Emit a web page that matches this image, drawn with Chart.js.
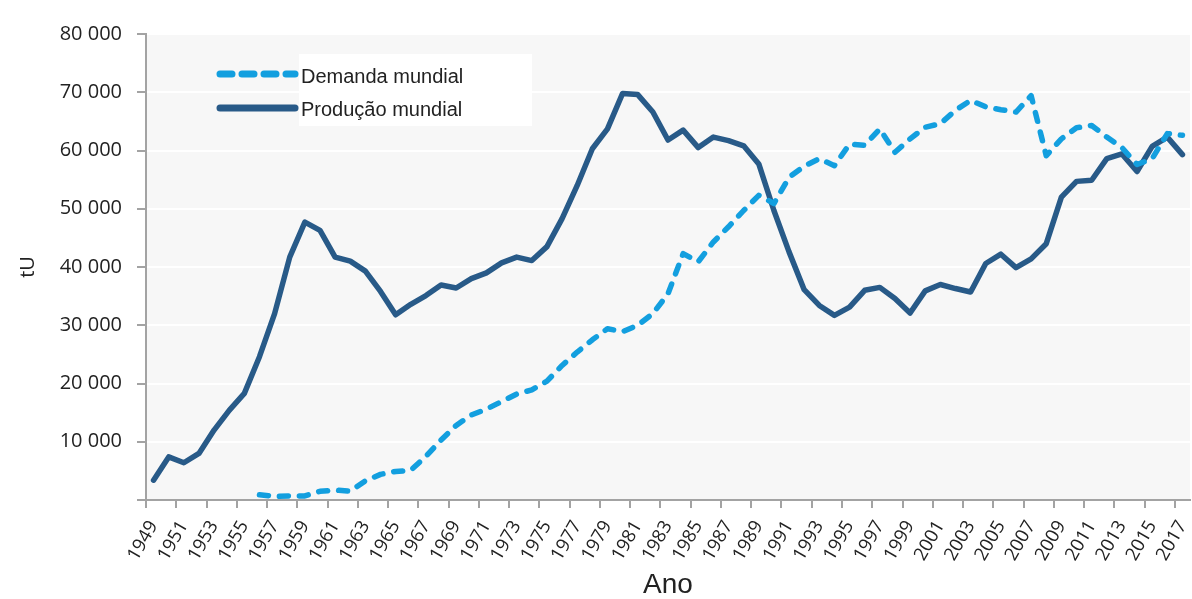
<!DOCTYPE html>
<html>
<head>
<meta charset="utf-8">
<script src="https://cdn.jsdelivr.net/npm/chart.js@4"></script>
<style>
    body { margin: 0; background: #ffffff; }
    #wrap { width: 1192px; height: 599px; }
</style>
</head>
<body>
<div id="wrap"><canvas id="uraniumChart" width="1192" height="599"></canvas></div>
<script>
// Years 1949..2017
const years = [];
for (let y = 1949; y <= 2017; y++) years.push(String(y));

// Demanda mundial (tU), starts in 1956
const demanda = [
    null, null, null, null, null, null, null,
    900, 600, 700, 700, 1500, 1700, 1500, 3300, 4400, 4900,
    5100, 7500, 10300, 12800, 14600, 15600, 16900, 18200, 18900, 20400,
    23100, 25400, 27500, 29400, 28900, 30000, 32000, 35400, 42300, 40900,
    44300, 46900, 49700, 52300, 50900, 55400, 57300, 58600, 57400, 61100,
    60900, 63700, 59700, 62000, 64000, 64600, 66900, 68600, 67500, 67000,
    66600, 69400, 59100, 62000, 63900, 64300, 62300, 60500, 57600, 58600,
    62900, 62600
];

// Produção mundial (tU)
const producao = [
    3400, 7400, 6400, 8000, 12000, 15400, 18300, 24600, 32000, 41700,
    47700, 46300, 41700, 41000, 39300, 35800, 31800, 33600, 35100, 36900,
    36400, 38000, 39000, 40700, 41700, 41100, 43500, 48300, 54000, 60300,
    63700, 69800, 69600, 66600, 61800, 63500, 60500, 62300, 61700, 60800,
    57700, 49700, 42600, 36100, 33400, 31700, 33100, 36000, 36500, 34600,
    32100, 35900, 37000, 36300, 35700, 40600, 42200, 39900, 41400, 44000,
    52000, 54700, 54900, 58600, 59400, 56400, 60700, 62300, 59300
];

const yTicks = [0, 10000, 20000, 30000, 40000, 50000, 60000, 70000, 80000];

const colorDemanda = '#139fdf';
const colorProducao = '#285a88';
const axisGrey = '#a3a3a3';
const textColor = '#222222';

function fmtThousands(v) {
    return String(v).replace(/\B(?=(\d{3})+(?!\d))/g, ' ');
}

// grey plot background
const plotBackground = {
    id: 'plotBackground',
    beforeDraw(chart) {
        const { ctx, chartArea: a } = chart;
        ctx.save();
        ctx.fillStyle = '#f7f7f7';
        ctx.fillRect(a.left, a.top, a.right - a.left, a.bottom - a.top);
        ctx.restore();
    }
};

// legend drawn inside the plot, top left
const insideLegend = {
    id: 'insideLegend',
    afterDraw(chart) {
        const ctx = chart.ctx;
        ctx.save();
        ctx.fillStyle = '#ffffff';
        ctx.fillRect(299, 54, 233, 72);
        const rows = [
            { ds: chart.data.datasets[0], y: 74, textY: 77 },
            { ds: chart.data.datasets[1], y: 108, textY: 110 }
        ];
        rows.forEach(r => {
            ctx.strokeStyle = r.ds.borderColor;
            ctx.lineWidth = 7;
            ctx.lineCap = 'round';
            ctx.setLineDash(r.ds.borderDash ? [12, 10] : []);
            ctx.beginPath();
            ctx.moveTo(220, r.y);
            ctx.lineTo(295, r.y);
            ctx.stroke();
            ctx.setLineDash([]);
            ctx.fillStyle = textColor;
            ctx.font = '20px "Liberation Sans", Arial, sans-serif';
            ctx.textBaseline = 'middle';
            ctx.textAlign = 'left';
            ctx.fillText(r.ds.label, 301, r.textY);
        });
        ctx.restore();
    }
};

const chart = new Chart(document.getElementById('uraniumChart'), {
    type: 'line',
    data: {
        labels: years,
        datasets: [
            {
                label: 'Demanda mundial',
                data: demanda,
                borderColor: colorDemanda,
                borderWidth: 5.5,
                borderDash: [9, 11],
                borderCapStyle: 'round',
                borderJoinStyle: 'round',
                pointRadius: 0,
                tension: 0,
                spanGaps: false
            },
            {
                label: 'Produção mundial',
                data: producao,
                borderColor: colorProducao,
                borderWidth: 5.5,
                borderCapStyle: 'round',
                borderJoinStyle: 'round',
                pointRadius: 0,
                tension: 0
            }
        ]
    },
    options: {
        responsive: false,
        animation: false,
        layout: { padding: { top: 34, right: 2, left: 0, bottom: 0 } },
        plugins: {
            legend: { display: false },
            tooltip: { enabled: false }
        },
        scales: {
            x: {
                type: 'category',
                offset: true,
                afterFit: s => {
                    s.height = 99;
                    s.paddingLeft = 0;
                    s.paddingRight = 0;
                },
                grid: {
                    offset: true,
                    drawOnChartArea: false,
                    drawTicks: true,
                    tickLength: 8,
                    color: ctx => (ctx.index % 2 === 0 ? axisGrey : 'rgba(0,0,0,0)'),
                    lineWidth: 2
                },
                border: { display: true, color: axisGrey, width: 2 },
                ticks: {
                    autoSkip: false,
                    minRotation: 60,
                    maxRotation: 60,
                    padding: 9,
                    color: textColor,
                    font: { family: '"Open Sans", sans-serif', size: 18.5 },
                    callback: function (val, i) {
                        return i % 2 === 0 ? this.getLabelForValue(val) : '';
                    }
                },
                title: {
                    display: true,
                    text: 'Ano',
                    color: textColor,
                    font: { family: '"Liberation Sans", Arial, sans-serif', size: 28, lineHeight: 1 },
                    padding: { top: 0, bottom: 0 }
                }
            },
            y: {
                min: 0,
                max: 80000,
                afterFit: s => { s.width = 146; },
                afterBuildTicks: s => { s.ticks = yTicks.map(v => ({ value: v })); },
                grid: {
                    color: '#ffffff',
                    lineWidth: 2,
                    tickColor: axisGrey,
                    tickLength: 9,
                    tickWidth: 2
                },
                border: { display: true, color: axisGrey, width: 2 },
                ticks: {
                    padding: 15,
                    color: textColor,
                    font: { family: '"Open Sans", sans-serif', size: 20 },
                    callback: v => (v === 0 ? '' : fmtThousands(v))
                },
                title: {
                    display: true,
                    text: 'tU',
                    color: textColor,
                    font: { family: '"Open Sans", sans-serif', size: 20, lineHeight: 1.2 },
                    padding: { top: 16, bottom: 0 }
                }
            }
        }
    },
    plugins: [plotBackground, insideLegend]
});
</script>
</body>
</html>
